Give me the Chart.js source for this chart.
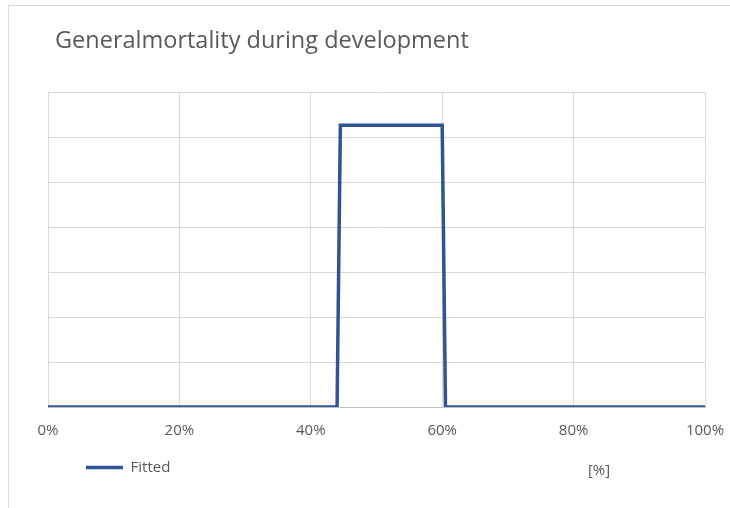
<!DOCTYPE html>
<html>
<head>
<meta charset="utf-8">
<script src="https://cdn.jsdelivr.net/npm/chart.js@4/dist/chart.umd.min.js"></script>
<style>
  html, body { margin: 0; padding: 0; background: #fff; overflow: hidden; }
  #frame { position: absolute; left: 8px; top: 5px; width: 800px; height: 600px; border: 1px solid #d9d9d9; }
  #wrap { position: absolute; left: 0; top: 0; width: 730px; height: 508px; }
</style>
</head>
<body>
<div id="frame"></div>
<div id="wrap"><canvas id="chart"></canvas></div>
<script>
// Mortalité générale pendant le développement (courbe ajustée)
const chartTitle = 'Generalmortality during development';
const unitLabel = '[%]';
const seriesName = 'Fitted';
const xPct = [0, 44.0, 44.5, 60.0, 60.5, 100];
const fitted = [0, 0, 6.26, 6.26, 0, 0];
const xStep = 20;

const textColor = '#595959';
const gridColor = '#d9d9d9';
const lineColor = '#2f5597';
const fontFamily = '"Open Sans", "Noto Sans", sans-serif';
const legendIndent = 18;

// titre et unité dessinés à la main (positions type Excel)
const textPlugin = {
  id: 'texts',
  afterLayout(chart) {
    // décale la légende vers la droite comme dans Excel
    chart.legend.left += legendIndent;
    chart.legend.right += legendIndent;
  },
  afterDraw(chart) {
    const ctx = chart.ctx;
    ctx.save();
    ctx.fillStyle = textColor;
    ctx.font = '23.5px ' + fontFamily;
    ctx.textAlign = 'left';
    ctx.textBaseline = 'alphabetic';
    ctx.fillText(chartTitle, 55, 48);
    ctx.font = '15px ' + fontFamily;
    ctx.textAlign = 'center';
    ctx.textBaseline = 'middle';
    ctx.fillText(unitLabel, 599, 471);
    ctx.restore();
  }
};

new Chart(document.getElementById('chart'), {
  type: 'line',
  data: {
    datasets: [{
      label: seriesName,
      data: xPct.map((x, i) => ({ x, y: fitted[i] })),
      borderColor: lineColor,
      backgroundColor: lineColor,
      borderWidth: 3.5,
      borderJoinStyle: 'miter',
      pointRadius: 0,
      pointStyle: 'line',
      tension: 0,
      fill: false
    }]
  },
  options: {
    responsive: true,
    maintainAspectRatio: false,
    animation: false,
    layout: { padding: { top: 92, left: 48, right: 25, bottom: 23 } },
    plugins: {
      title: { display: false },
      tooltip: { enabled: false },
      legend: {
        position: 'bottom',
        align: 'start',
        labels: {
          usePointStyle: true,
          pointStyleWidth: 37,
          padding: 20,
          color: textColor,
          font: { family: fontFamily, size: 15 }
        }
      }
    },
    scales: {
      x: {
        type: 'linear',
        min: 0,
        max: 100,
        afterFit: (s) => { s.height = 33; s.paddingLeft = 0; s.paddingRight = 0; },
        ticks: {
          stepSize: xStep,
          padding: 15,
          maxRotation: 0,
          minRotation: 0,
          autoSkip: false,
          color: textColor,
          font: { family: fontFamily, size: 15 },
          callback: (v) => v + '%'
        },
        grid: { color: gridColor, drawTicks: false },
        border: { display: true, color: '#bfbfbf', width: 1 }
      },
      y: {
        min: 0,
        max: 7,
        ticks: { display: false, stepSize: 1 },
        grid: { color: gridColor, drawTicks: false },
        border: { display: false }
      }
    }
  },
  plugins: [textPlugin]
});
</script>
</body>
</html>
